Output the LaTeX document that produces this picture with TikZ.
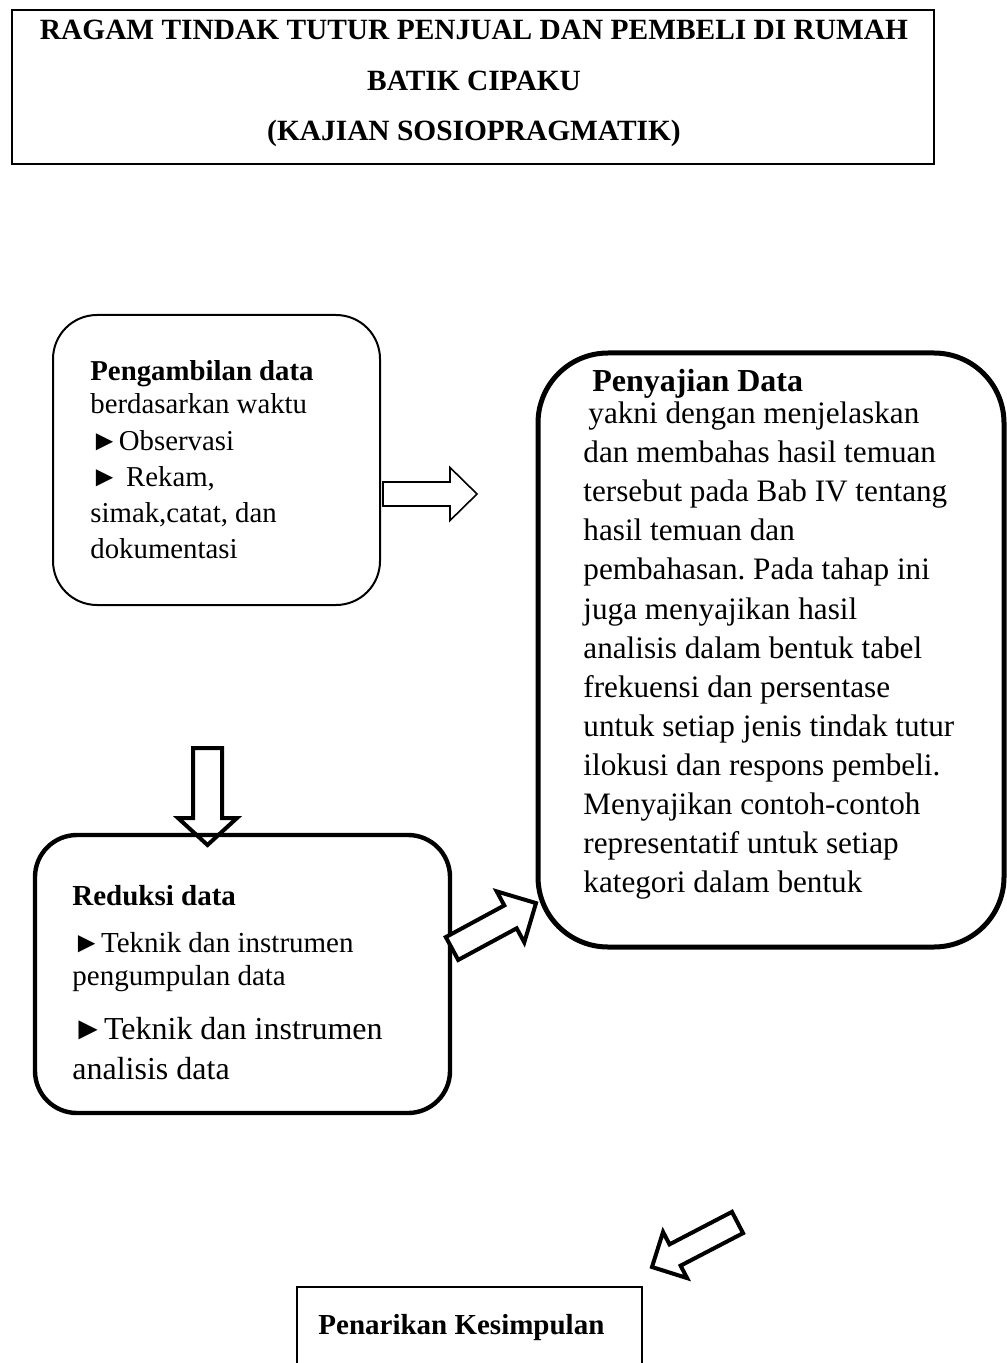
\documentclass[tikz,border=0pt]{standalone}
\usepackage{fontspec}
\setmainfont{Liberation Serif}
\frenchspacing

\tikzset{
	kotak/.style={draw, rectangle, inner sep=0pt},
	teks/.style={inner sep=0pt, align=left, anchor=north west},
	panah/.style={draw, fill=white, line join=miter, line width=2pt},
}

\begin{document}
\begin{tikzpicture}[x=0.5pt,y=-0.5pt]
	\path[use as bounding box] (0,0) rectangle (1006,1363);
	% kotak
	\node[kotak, line width=1.2pt, minimum width=461pt, minimum height=77pt] (judul) at (473,87) {};
	\node[kotak, rounded corners=22pt, line width=1pt, minimum width=163.5pt, minimum height=145pt] (ambil) at (216.5,460) {};
	\node[kotak, rounded corners=35pt, line width=2.5pt, minimum width=233pt, minimum height=297pt] (saji) at (771,650) {};
	\node[kotak, rounded corners=21pt, line width=2.2pt, minimum width=207.5pt, minimum height=139pt] (reduksi) at (242.5,974) {};
	\node[kotak, line width=1.2pt, minimum width=172.5pt, minimum height=66.5pt] (simpul) at (469.5,1353.5) {};
	% teks
	\node[inner sep=0pt, align=center, anchor=north, font=\fontsize{14.7}{25.25}\selectfont\bfseries] (tjudul) at (474,20)
		{RAGAM TINDAK TUTUR PENJUAL DAN PEMBELI DI RUMAH\\BATIK CIPAKU\\(KAJIAN SOSIOPRAGMATIK)};
	\node[teks, font=\fontsize{14.4}{18}\selectfont] (tambil) at (90,360.5)
		{\textbf{Pengambilan data}\\[-1.5pt]berdasarkan waktu\\[0.5pt]►Observasi\\►~Rekam,\\simak,catat, dan\\dokumentasi};
	\node[teks, font=\fontsize{15.6}{19.54}\selectfont] (tsaji) at (583,369)
		{\hspace*{4.5pt}{\fontsize{16}{19.54}\selectfont\bfseries Penyajian Data}\\[-3.54pt]
		\hspace*{2.5pt}yakni dengan menjelaskan\\
		dan membahas hasil temuan\\
		tersebut pada Bab IV tentang\\
		hasil temuan dan\\
		pembahasan. Pada tahap ini\\
		juga menyajikan hasil\\
		analisis dalam bentuk tabel\\
		frekuensi dan persentase\\
		untuk setiap jenis tindak tutur\\
		ilokusi dan respons pembeli.\\
		Menyajikan contoh-contoh\\
		representatif untuk setiap\\
		kategori dalam bentuk};
	\node[teks, font=\fontsize{14.5}{16.5}\selectfont] (treduksi) at (72,885.4)
		{\textbf{Reduksi data}\\[7pt]►Teknik dan instrumen\\pengumpulan data};
	\node[teks, font=\fontsize{16}{20}\selectfont] (treduksib) at (72,1017)
		{►Teknik dan instrumen\\analisis data};
	\node[teks, font=\fontsize{14.5}{16.5}\selectfont\bfseries] (tsimpul) at (318,1314) {Penarikan Kesimpulan};
	% panah blok
	\begin{scope}[shift={(383,494)}]
		\draw[panah, line width=0.8pt] (0,-12) -- (67,-12) -- (67,-26.5) -- (94,0) -- (67,26.5) -- (67,12) -- (0,12) -- cycle;
	\end{scope}
	\begin{scope}[shift={(207.5,748)}, rotate=-90]
		\draw[panah, fill=none] (0,-14.5) -- (70,-14.5) -- (70,-29.5) -- (97,0) -- (70,29.5) -- (70,14.5) -- (0,14.5) -- cycle;
	\end{scope}
	\begin{scope}[shift={(452,948.5)}, rotate=28.4]
		\draw[panah] (0,-13) -- (66.5,-13) -- (66.5,-29) -- (95.5,0) -- (66.5,29) -- (66.5,13) -- (0,13) -- cycle;
	\end{scope}
	\begin{scope}[shift={(737.5,1222.5)}, rotate=207.5]
		\draw[panah] (0,-12) -- (70.4,-12) -- (70.4,-26) -- (96.4,0) -- (70.4,26) -- (70.4,12) -- (0,12) -- cycle;
	\end{scope}
\end{tikzpicture}
\end{document}
